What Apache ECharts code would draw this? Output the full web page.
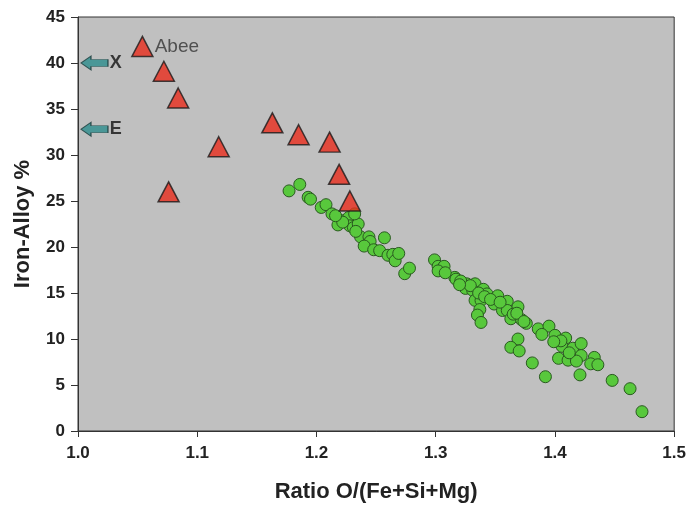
<!DOCTYPE html>
<html>
<head>
<meta charset="utf-8">
<script src="https://cdn.jsdelivr.net/npm/echarts@6/dist/echarts.min.js"></script>
<style>
html,body{margin:0;padding:0;background:#fff;}
#chart{width:689px;height:508px;}
</style>
</head>
<body>
<div id="chart"></div>
<script>
// Red triangles (iron-alloy samples, "Abee" first)
const triNames = ['Abee','','','','','','','','',''];
const triX = [1.054,1.072,1.084,1.118,1.076,1.163,1.185,1.211,1.219,1.228];
const triY = [41.8,39.1,36.2,30.9,26.0,33.5,32.2,31.4,27.9,25.0];

// Green circles
const dotX = [1.177,1.186,1.193,1.195,1.204,1.208,1.213,1.220,1.218,1.227,1.228,1.231,1.235,1.232,1.237,1.244,1.245,1.240,1.248,1.253,1.257,1.260,1.264,1.266,1.269,1.274,1.278,
1.299,1.302,1.307,1.302,1.316,1.317,1.326,1.333,1.325,1.331,1.340,1.343,1.333,1.338,1.349,1.352,1.337,1.335,1.338,1.360,1.356,1.360,1.369,1.363,1.372,1.376,
1.386,1.395,1.389,1.400,1.369,1.363,1.370,1.409,1.406,1.415,1.422,1.403,1.411,1.422,1.418,1.433,1.430,1.436,1.381,1.392,1.421,1.448,1.463,1.473,
1.321,1.329,1.336,1.341,1.346,1.354,1.365,1.368,1.374,1.320,1.308,1.222,1.216,1.233,1.405,1.399,1.412];
const dotY = [26.1,26.8,25.4,25.2,24.3,24.6,23.6,22.9,22.4,23.2,22.3,22.1,22.5,23.6,21.1,21.1,20.6,20.1,19.7,19.6,21.0,19.1,19.2,18.5,19.3,17.1,17.7,
18.6,17.9,17.9,17.4,16.7,16.5,16.0,16.0,15.5,15.3,15.4,14.9,14.2,14.2,13.8,14.7,13.2,12.6,11.8,14.1,13.1,13.1,13.5,12.2,12.1,11.7,
11.1,11.4,10.5,10.4,10.0,9.1,8.7,10.1,9.2,9.0,9.5,7.9,7.7,8.2,7.6,8.0,7.3,7.2,7.4,5.9,6.1,5.5,4.6,2.1,
16.3,15.8,15.0,14.6,14.3,14.0,12.7,12.8,11.9,15.9,17.2,22.7,23.4,21.7,9.8,9.7,8.5];

// Reference arrows on the left axis
const arrowNames = ['X','E'];
const arrowX = [1.0138,1.0138];
const arrowY = [40.0,32.8];

const xTicks = {min:1.0,max:1.5,interval:0.1};
const yTicks = {min:0,max:45,interval:5};

const chart = echarts.init(document.getElementById('chart'));
const font = '"Liberation Sans", Arial, sans-serif';
chart.setOption({
  animation:false,
  grid:{left:78,right:12,top:17,bottom:73,show:true,backgroundColor:'#c0c0c0',borderColor:'#333',borderWidth:1},
  xAxis:{type:'value',min:xTicks.min,max:xTicks.max,interval:xTicks.interval,
    name:'Ratio O/(Fe+Si+Mg)',nameLocation:'middle',nameGap:50,
    nameTextStyle:{fontFamily:font,fontWeight:'bold',fontSize:22,color:'#222'},
    axisLine:{lineStyle:{color:'#333',width:1}},
    axisTick:{show:true,length:6,lineStyle:{color:'#333'}},
    axisLabel:{margin:14,fontFamily:font,fontWeight:'bold',fontSize:17,color:'#222',formatter:v=>v.toFixed(1)},
    splitLine:{show:false}},
  yAxis:{type:'value',min:yTicks.min,max:yTicks.max,interval:yTicks.interval,
    name:'Iron-Alloy %',nameLocation:'middle',nameGap:44,nameRotate:90,
    nameTextStyle:{fontFamily:font,fontWeight:'bold',fontSize:22,color:'#222'},
    axisLine:{lineStyle:{color:'#333',width:1}},
    axisTick:{show:true,length:7,lineStyle:{color:'#333'}},
    axisLabel:{margin:13,fontFamily:font,fontWeight:'bold',fontSize:17,color:'#222'},
    splitLine:{show:false}},
  series:[
    {type:'scatter',symbol:'circle',symbolSize:12,
     data:dotX.map((x,i)=>[x,dotY[i]]),
     itemStyle:{color:'#58c83c',borderColor:'#2a5a20',borderWidth:1,opacity:1}},
    {type:'scatter',symbol:'triangle',symbolSize:[21,20],
     data:triX.map((x,i)=>({name:triNames[i],value:[x,triY[i]]})),
     itemStyle:{color:'#e82c1c',borderColor:'#1a1a1a',borderWidth:1.5},
     label:{show:true,position:'right',distance:1,formatter:p=>p.name,
       fontFamily:font,fontSize:19,color:'#333'}},
    {type:'scatter',symbol:'path://M0,7 L10,0 L10,3.5 L27,3.5 L27,10.5 L10,10.5 L10,14 Z',symbolSize:[27,14],
     data:arrowX.map((x,i)=>({name:arrowNames[i],value:[x,arrowY[i]]})),
     itemStyle:{color:'#2c8c8c',borderColor:'#1b3b3b',borderWidth:1},
     label:{show:true,position:'right',distance:1,formatter:p=>p.name,
       fontFamily:font,fontWeight:'bold',fontSize:18,color:'#111'}}
  ]
});
</script>
</body>
</html>
